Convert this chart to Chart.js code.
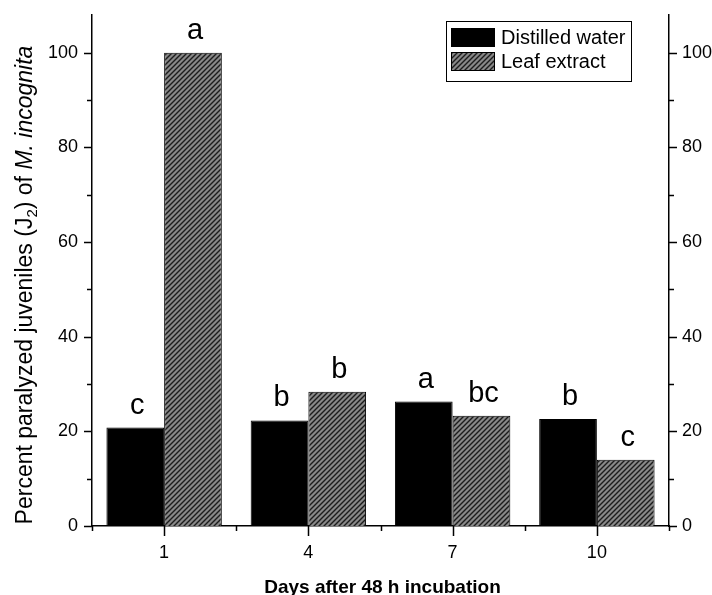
<!DOCTYPE html>
<html>
<head>
<meta charset="utf-8">
<script src="https://cdn.jsdelivr.net/npm/chart.js@4.4.0/dist/chart.umd.min.js"></script>
<style>
  html, body { margin: 0; padding: 0; background: #fff; }
</style>
</head>
<body>
<canvas id="chart" width="712" height="595"></canvas>
<script>
const days = ['1', '4', '7', '10'];
const distilledWater = [20.8, 22.3, 26.3, 22.6];
const leafExtract = [100, 28.4, 23.3, 14.0];
const distilledLetters = ['c', 'b', 'a', 'b'];
const leafLetters = ['a', 'b', 'bc', 'c'];
const yTicks = [0, 20, 40, 60, 80, 100];

const FONT = '"Liberation Sans", Arial, sans-serif';

function hatchPattern() {
    const p = 5;
    const c = document.createElement('canvas');
    c.width = p; c.height = p;
    const g = c.getContext('2d');
    g.fillStyle = '#888';
    g.fillRect(0, 0, p, p);
    g.strokeStyle = '#1c1c1c';
    g.lineWidth = 1.4;
    g.beginPath();
    g.moveTo(-1, p + 1); g.lineTo(p + 1, -1);
    g.moveTo(-1, 1); g.lineTo(1, -1);
    g.moveTo(p - 1, p + 1); g.lineTo(p + 1, p - 1);
    g.stroke();
    return g.createPattern(c, 'repeat');
}
const hatch = hatchPattern();

const decor = {
    id: 'decor',
    afterDatasetsDraw(chart) {
        const ctx = chart.ctx;
        const letters = [distilledLetters, leafLetters];
        ctx.save();
        ctx.fillStyle = '#000';
        ctx.font = '29px ' + FONT;
        ctx.textAlign = 'center';
        ctx.textBaseline = 'alphabetic';
        chart.data.datasets.forEach((ds, i) => {
            chart.getDatasetMeta(i).data.forEach((bar, j) => {
                ctx.fillText(letters[i][j], bar.x + 2, bar.y - 14);
            });
        });
        ctx.restore();
    },
    afterDraw(chart) {
        const ctx = chart.ctx;
        const area = chart.chartArea;
        const x = chart.scales.x;
        const y = chart.scales.y;
        ctx.save();
        ctx.strokeStyle = '#000';
        ctx.lineWidth = 1.5;
        ctx.beginPath();
        // y ticks, major every 20, minor every 10, both sides
        for (let v = 0; v <= 100; v += 10) {
            const py = Math.round(y.getPixelForValue(v)) + 0.5;
            const len = v % 20 === 0 ? 8 : 5;
            ctx.moveTo(area.left - len, py); ctx.lineTo(area.left, py);
            ctx.moveTo(area.right, py); ctx.lineTo(area.right + len, py);
        }
        // x ticks: major at categories, minor between them
        for (let i = 0; i < days.length; i++) {
            const px = Math.round(x.getPixelForValue(i)) + 0.5;
            ctx.moveTo(px, area.bottom); ctx.lineTo(px, area.bottom + 10);
        }
        for (let i = 0; i <= days.length; i++) {
            const px = Math.round(x.getPixelForValue(i - 0.5)) + 0.5;
            ctx.moveTo(px, area.bottom); ctx.lineTo(px, area.bottom + 5);
        }
        ctx.stroke();

        // legend
        const bx = 446, by = 21, bw = 185, bh = 60;
        ctx.lineWidth = 1;
        ctx.strokeRect(bx + 0.5, by + 0.5, bw, bh);
        chart.data.datasets.forEach((ds, i) => {
            const sy = by + 7 + i * 24;
            ctx.fillStyle = ds.backgroundColor;
            ctx.fillRect(bx + 5, sy, 44, 19);
            ctx.strokeStyle = '#000';
            ctx.strokeRect(bx + 5.5, sy + 0.5, 43, 18);
            ctx.fillStyle = '#000';
            ctx.font = '20px ' + FONT;
            ctx.textAlign = 'left';
            ctx.textBaseline = 'middle';
            ctx.fillText(ds.label, bx + 55, sy + 10);
        });

        // x title
        ctx.fillStyle = '#000';
        ctx.font = 'bold 19px ' + FONT;
        ctx.textAlign = 'center';
        ctx.textBaseline = 'alphabetic';
        ctx.fillText('Days after 48 h incubation', (area.left + area.right) / 2 + 2, 593);

        // y title with subscript and italic part
        const parts = [
            ['Percent paralyzed juveniles (J', '23px ' + FONT, 0],
            ['2', '15px ' + FONT, 5],
            [') of ', '23px ' + FONT, 0],
            ['M. incognita', 'italic 23px ' + FONT, 0]
        ];
        let total = 0;
        parts.forEach(p => { ctx.font = p[1]; total += ctx.measureText(p[0]).width; });
        ctx.translate(32, 285);
        ctx.rotate(-Math.PI / 2);
        ctx.textAlign = 'left';
        let cx = -total / 2;
        parts.forEach(p => {
            ctx.font = p[1];
            ctx.fillText(p[0], cx, p[2]);
            cx += ctx.measureText(p[0]).width;
        });
        ctx.restore();
    }
};

const tickFont = { family: FONT, size: 18 };

function fixY(width) {
    return s => { s.width = width; s.paddingTop = 0; s.paddingBottom = 0; };
}

new Chart(document.getElementById('chart'), {
    type: 'bar',
    data: {
        labels: days,
        datasets: [
            {
                label: 'Distilled water',
                data: distilledWater,
                backgroundColor: '#000',
                borderColor: '#000',
                borderWidth: 1,
                categoryPercentage: 0.8,
                barPercentage: 1.0
            },
            {
                label: 'Leaf extract',
                data: leafExtract,
                backgroundColor: hatch,
                borderColor: '#000',
                borderWidth: 1,
                categoryPercentage: 0.8,
                barPercentage: 1.0
            }
        ]
    },
    options: {
        responsive: false,
        devicePixelRatio: 1,
        animation: false,
        layout: { padding: { top: 15, left: 0, right: 0, bottom: 0 } },
        plugins: {
            legend: { display: false },
            tooltip: { enabled: false }
        },
        scales: {
            x: {
                grid: { display: false, drawTicks: false },
                border: { display: true, color: '#000', width: 1.5 },
                ticks: { color: '#000', font: tickFont, padding: 16 },
                afterFit: s => { s.height = 69; s.paddingLeft = 0; s.paddingRight = 0; }
            },
            y: {
                position: 'left',
                min: 0,
                max: 108,
                afterBuildTicks: s => { s.ticks = yTicks.map(v => ({ value: v })); },
                grid: { display: false, drawTicks: false },
                border: { display: true, color: '#000', width: 1.5 },
                ticks: { color: '#000', font: tickFont, padding: 14 },
                afterFit: fixY(92)
            },
            y2: {
                position: 'right',
                min: 0,
                max: 108,
                afterBuildTicks: s => { s.ticks = yTicks.map(v => ({ value: v })); },
                grid: { display: false, drawTicks: false },
                border: { display: true, color: '#000', width: 1.5 },
                ticks: { color: '#000', font: tickFont, padding: 13 },
                afterFit: fixY(43)
            }
        }
    },
    plugins: [decor]
});
</script>
</body>
</html>
